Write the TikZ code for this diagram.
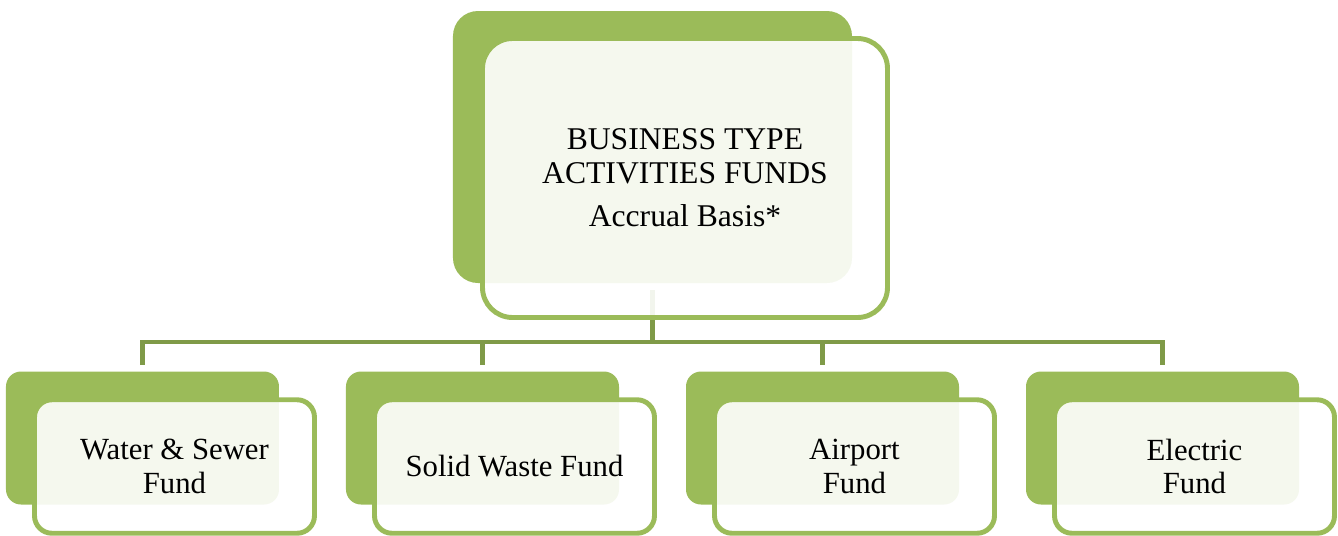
\documentclass[tikz,border=0pt]{standalone}
\usepackage{fontspec}
\setmainfont{Liberation Serif}
\usetikzlibrary{trees}

\definecolor{backgreen}{HTML}{9BBB59}
\definecolor{linkgreen}{HTML}{7F9A48}

\begin{document}
\begin{tikzpicture}[level distance=58.2mm]
				\tikzstyle{topback}=[fill=backgreen,rounded corners=5mm,inner sep=0pt,outer sep=1.4mm,
				minimum width=79.8mm,minimum height=54.4mm]
				\tikzstyle{subback}=[fill=backgreen,rounded corners=3mm,inner sep=0pt,outer sep=1.4mm,
				minimum width=54.6mm,minimum height=26.6mm]
				\tikzstyle{topframe}=[draw=backgreen,line width=2.8pt,fill=white,fill opacity=0.9,
				text opacity=1,rounded corners=6mm,minimum width=81mm,minimum height=55.8mm,
				align=center,font=\fontsize{18}{19.5}\selectfont]
				\tikzstyle{subframe}=[draw=backgreen,line width=2.8pt,fill=white,fill opacity=0.9,
				text opacity=1,rounded corners=3.5mm,minimum width=56mm,minimum height=26.7mm,
				align=center,font=\fontsize{17.5}{19}\selectfont]
				\tikzstyle{edge from parent}=[draw=linkgreen,line width=2.8pt]
				\tikzstyle{level 1}=[sibling distance=68mm,
				edge from parent path={(\tikzparentnode.south) -- ++(0,-1.04) -| (\tikzchildnode.north)}]
				\useasboundingbox (-13.05,2.94) rectangle (13.71,-7.76);
				% back boxes and connectors
				\node[topback] (business) {}
				child {node[subback] (water) {}}
				child {node[subback] (solid) {}}
				child {node[subback] (airport) {}}
				child {node[subback] (electric) {}};
				% front frames
				\node[topframe] (businessframe) at ([shift={(0.65,-0.62)}]business.center)
				{BUSINESS TYPE\\ACTIVITIES FUNDS\\[5pt]Accrual Basis*};
				\node[subframe] (waterframe) at ([shift={(0.64,-0.57)}]water.center) {Water \& Sewer\\Fund};
				\node[subframe] (solidframe) at ([shift={(0.64,-0.57)}]solid.center) {Solid Waste Fund};
				\node[subframe] (airportframe) at ([shift={(0.64,-0.57)}]airport.center) {Airport\\Fund};
				\node[subframe] (electricframe) at ([shift={(0.64,-0.57)}]electric.center) {Electric\\Fund};
				\end{tikzpicture}
\end{document}
